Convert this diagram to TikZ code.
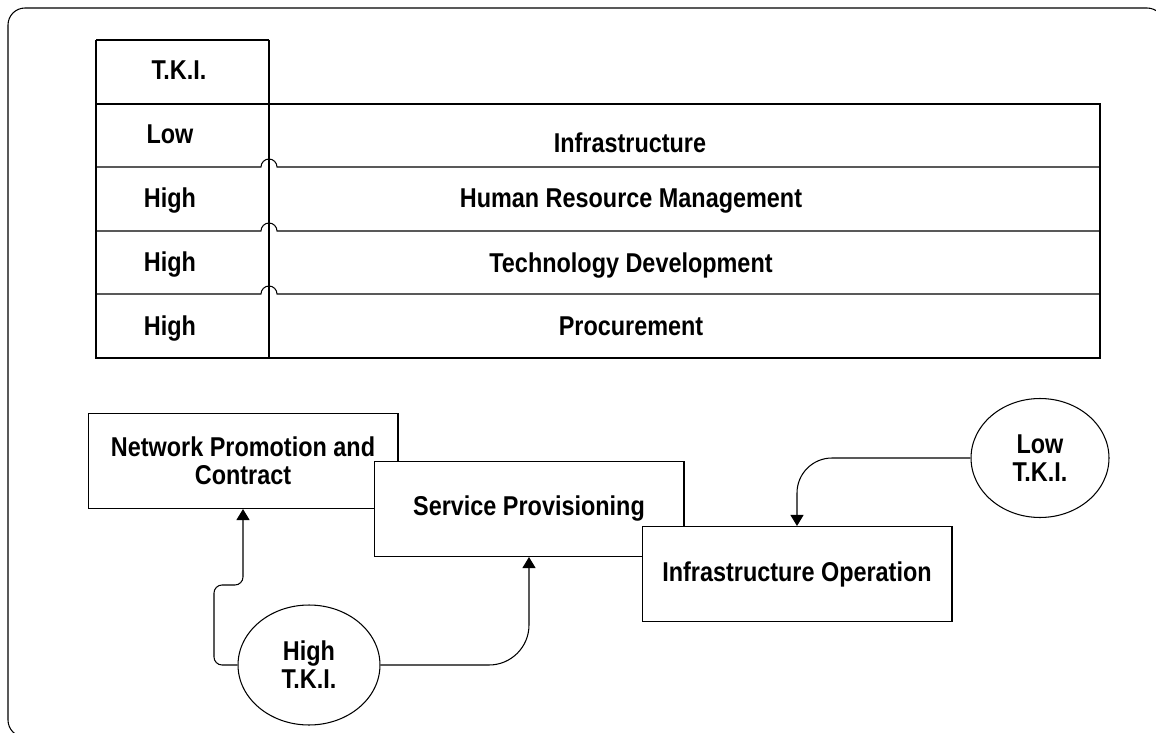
\documentclass[tikz,border=0pt]{standalone}
\usepackage{fontspec}
\setmainfont[FakeStretch=0.86]{Liberation Sans}
\usetikzlibrary{arrows.meta, shapes.geometric}

\begin{document}
\begin{tikzpicture}[x=0.02cm, y=-0.02cm,
				>={Triangle[length=0.22cm, width=0.26cm]},
				line width=0.6pt,
				font=\fontsize{15.5}{16}\selectfont\bfseries,
				cell/.style={anchor=base, inner sep=0pt},
				box/.style={draw, fill=white, minimum width=6.2cm, minimum height=1.9cm, align=center, inner sep=0pt},
				tki/.style={draw, fill=white, ellipse, align=center, inner sep=0pt}]
				\useasboundingbox (0,0) rectangle (1156,733);
				% frame
				\draw[rounded corners=0.34cm] (8,8) rectangle (1164,737);
				% table
				\draw (96,40) -- (269,40);
				\draw (96,40) -- (96,358) -- (1100,358) -- (1100,104) -- (96,104);
				\draw (269,40) -- (269,358);
				\foreach \y in {167,231,294}
					\draw (96,\y) -- (261,\y) arc[start angle=180, end angle=0, radius=0.16cm] -- (1100,\y);
				\node at (179,80) (head) [cell] {T.K.I.};
				\node at (170,144) (low) [cell] {Low};
				\node at (170,208) (hrmlvl) [cell] {High};
				\node at (170,272) (techlvl) [cell] {High};
				\node at (170,335) (proclvl) [cell] {High};
				\node at (630,153) (infra) [cell] {Infrastructure};
				\node at (631,208) (hrm) [cell] {Human Resource Management};
				\node at (631,273) (tech) [cell] {Technology Development};
				\node at (631,335) (proc) [cell] {Procurement};
				% primary activities
				\node at (243,461) (npc) [box] {Network Promotion and\\Contract};
				\node at (529,509) (sp) [box] {Service Provisioning};
				\node at (797,574) (io) [box] {Infrastructure Operation};
				\node at (309,665) (high) [tki, minimum width=2.84cm, minimum height=2.4cm] {High\\T.K.I.};
				\node at (1040,458) (lowtki) [tki, minimum width=2.76cm, minimum height=2.38cm] {Low\\T.K.I.};
				\draw[->, rounded corners=0.16cm] (high.west) -| (214,585) -| (npc.south);
				\draw[->, rounded corners=0.8cm] (high.east) -| (sp.south);
				\draw[->, rounded corners=0.7cm] (lowtki.west) -| (io.north);
			\end{tikzpicture}
\end{document}
